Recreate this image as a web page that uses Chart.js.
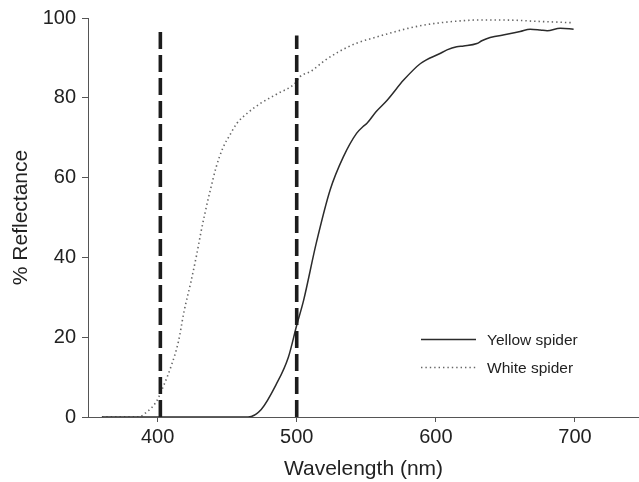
<!DOCTYPE html>
<html><head><meta charset="utf-8">
<script src="https://cdn.jsdelivr.net/npm/chart.js@4/dist/chart.umd.min.js"></script>
<style>html,body{margin:0;padding:0;background:#fff}#wrap{width:639px;height:482px}</style>
</head><body><div id="wrap"><canvas id="c" width="639" height="482"></canvas></div>
<script>
const xTicks = [400, 500, 600, 700];
const yTicks = [0, 20, 40, 60, 80, 100];
const seriesNames = ['Yellow spider', 'White spider'];
const yellowWl  = [360, 400, 440, 465, 474.5, 485, 494, 500, 505, 514, 524, 533.5, 543, 547.7, 550.5, 557, 565, 577, 589, 603, 608, 615, 620, 629.5, 633, 639, 651, 660.6, 667.8, 675, 680, 689.4, 699];
const yellowRef = [0, 0, 0, 0, 1.9, 8, 15, 23, 29.3, 43.5, 56.9, 65.2, 71.1, 72.8, 73.6, 76.5, 79.4, 84.5, 88.6, 91.1, 92, 92.8, 93, 93.6, 94.3, 95.1, 95.9, 96.6, 97.2, 97, 96.8, 97.4, 97.2];
const whiteWl  = [360, 370, 380, 386, 392, 399, 405, 410, 415, 419, 424, 428, 431, 434, 438, 442, 447, 452, 457, 464, 474, 486, 499, 502, 510, 520, 530, 543, 555, 567, 580, 591, 603, 615, 630, 646, 660, 670, 685, 699];
const whiteRef = [0, 0, 0, 0, 1.2, 3.8, 8.4, 13, 18.9, 26.4, 33.9, 40.5, 46, 51, 57, 62.5, 67.5, 70.7, 73.6, 76, 78.6, 81, 83.7, 85.2, 86.6, 89.3, 91.5, 93.7, 95, 96.2, 97.4, 98.2, 98.8, 99.2, 99.5, 99.5, 99.4, 99.2, 99, 98.8];
const markerWl  = [402, 500];
const markerTop = [96.6, 95.6];

const FAM = '"Liberation Sans", Arial, Helvetica, sans-serif';
const TXT = '#222';
const AX = '#555';

const pts = (xs, ys) => xs.map((x, i) => ({x: x, y: ys[i]}));

const datasets = [
  {label: seriesNames[0], data: pts(yellowWl, yellowRef), borderColor: '#2b2b2b', borderWidth: 1.5, pointRadius: 0, cubicInterpolationMode: 'monotone', fill: false, order: 2},
  {label: seriesNames[1], data: pts(whiteWl, whiteRef), borderColor: '#666', borderWidth: 1.6, borderDash: [1.4, 3], pointRadius: 0, cubicInterpolationMode: 'monotone', fill: false, order: 2}
];
markerWl.forEach((w, i) => {
  datasets.push({label: 'marker' + i, data: [{x: w, y: 0}, {x: w, y: markerTop[i]}], borderColor: '#1c1c1c', borderWidth: 3.6, borderDash: [17, 6], pointRadius: 0, fill: false, order: 0});
});

const inlineLegend = {
  id: 'inlineLegend',
  afterDatasetsDraw(chart) {
    const ctx = chart.ctx;
    const rows = [339, 367];
    [0, 1].forEach(i => {
      const ds = chart.data.datasets[i];
      ctx.save();
      ctx.strokeStyle = ds.borderColor;
      ctx.lineWidth = i === 0 ? 1.5 : 1.4;
      ctx.setLineDash(ds.borderDash || []);
      ctx.beginPath();
      ctx.moveTo(421, rows[i] + 0.5);
      ctx.lineTo(476, rows[i] + 0.5);
      ctx.stroke();
      ctx.setLineDash([]);
      ctx.fillStyle = TXT;
      ctx.font = '15.5px ' + FAM;
      ctx.textBaseline = 'middle';
      ctx.textAlign = 'left';
      ctx.fillText(ds.label, 487, rows[i] + 1.5);
      ctx.restore();
    });
  }
};

new Chart(document.getElementById('c'), {
  type: 'line',
  data: {datasets: datasets},
  plugins: [inlineLegend],
  options: {
    responsive: false,
    animation: false,
    devicePixelRatio: 1,
    layout: {padding: {top: 18, right: 0, bottom: 0, left: 0}},
    plugins: {legend: {display: false}, tooltip: {enabled: false}},
    scales: {
      x: {
        type: 'linear', min: 350, max: 746,
        afterBuildTicks: s => { s.ticks = xTicks.map(v => ({value: v})); },
        afterFit: s => { s.height = 65; },
        grid: {display: true, drawOnChartArea: false, drawTicks: true, tickLength: 5, color: AX},
        border: {display: true, color: AX, width: 1},
        ticks: {font: {size: 20, family: FAM}, color: TXT, padding: 3, maxRotation: 0, autoSkip: false},
        title: {display: true, text: 'Wavelength (nm)', font: {size: 21, family: FAM}, color: TXT, padding: {top: 0, bottom: 0}}
      },
      y: {
        type: 'linear', min: 0, max: 100,
        afterBuildTicks: s => { s.ticks = yTicks.map(v => ({value: v})); },
        afterFit: s => { s.width = 88; },
        grid: {display: true, drawOnChartArea: false, drawTicks: true, tickLength: 6, color: AX},
        border: {display: true, color: AX, width: 1},
        ticks: {font: {size: 20, family: FAM}, color: TXT, padding: 6},
        title: {display: true, text: '% Reflectance', font: {size: 21, family: FAM}, color: TXT, padding: {top: 9, bottom: 0}}
      }
    }
  }
});
</script></body></html>
